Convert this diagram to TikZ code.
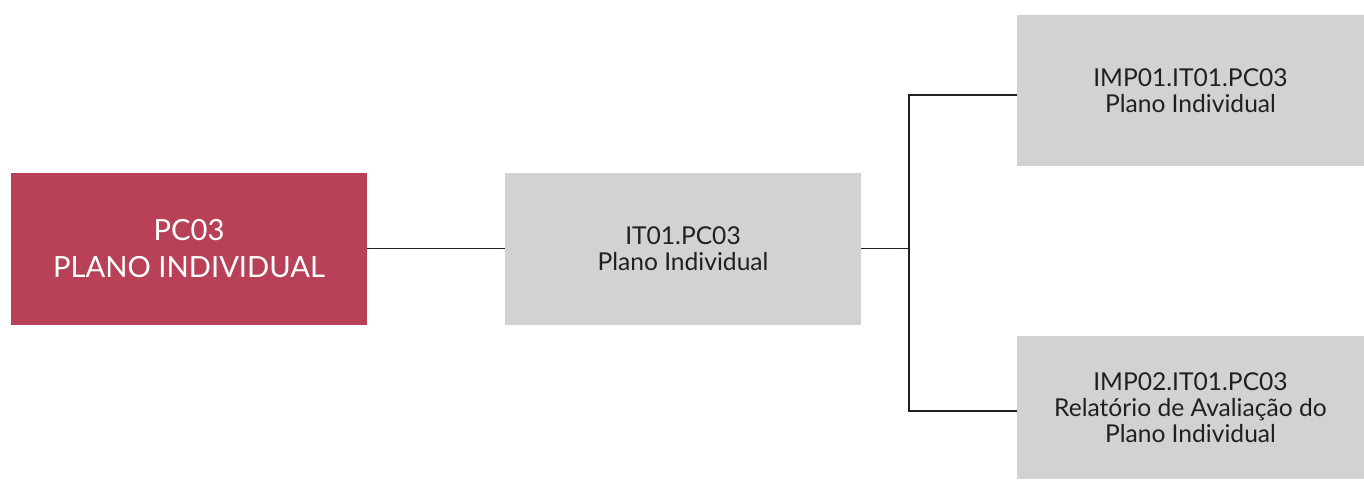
\documentclass[tikz,border=0pt]{standalone}
\usepackage{fontspec}
\setmainfont{Lato}
\usepackage{tikz}
\usetikzlibrary{calc}

\definecolor{plumred}{HTML}{B84158}
\definecolor{boxgray}{HTML}{D1D2D4}
\definecolor{inkgray}{HTML}{231F20}

\tikzset{
  mainbox/.style={fill=plumred, text=white, minimum width=7.12cm, minimum height=3.03cm,
    align=center, inner sep=0pt, font=\fontsize{16.6}{21}\selectfont},
  subbox/.style={fill=boxgray, text=inkgray, minimum width=7.12cm, minimum height=3.03cm,
    align=center, inner sep=0pt, font=\fontsize{14}{14.7}\selectfont},
  link/.style={line width=0.8pt, draw=inkgray}
}

\begin{document}
\begin{tikzpicture}
            \useasboundingbox (0,0) rectangle (27.28,9.58);
            \coordinate (P) at (3.78,4.605);
            \coordinate (I) at (13.66,4.605);
            \coordinate (M) at (23.81,7.77);
            \coordinate (R) at (23.81,1.43);
            \node [mainbox] (pc) at (P) {PC03\\PLANO INDIVIDUAL};
            \node [subbox] (it) at (I) {IT01.PC03\\Plano Individual};
            \node [subbox, minimum width=6.94cm, minimum height=3.02cm] (imp1) at (M)
                {IMP01.IT01.PC03\\Plano Individual};
            \node [subbox, minimum width=6.94cm, minimum height=2.86cm] (imp2) at (R)
                {IMP02.IT01.PC03\\Relatório de Avaliação do\\Plano Individual};
            \coordinate (J) at (18.18,4.605);
            \draw [link] (pc.east) -- (it.west);
            \draw [link] (it.east) -- (J);
            \draw [link] ($(imp1.west)+(0,-0.09)$) -| (J) |- ($(imp2.west)+(0,-0.07)$);
        \end{tikzpicture}
\end{document}
